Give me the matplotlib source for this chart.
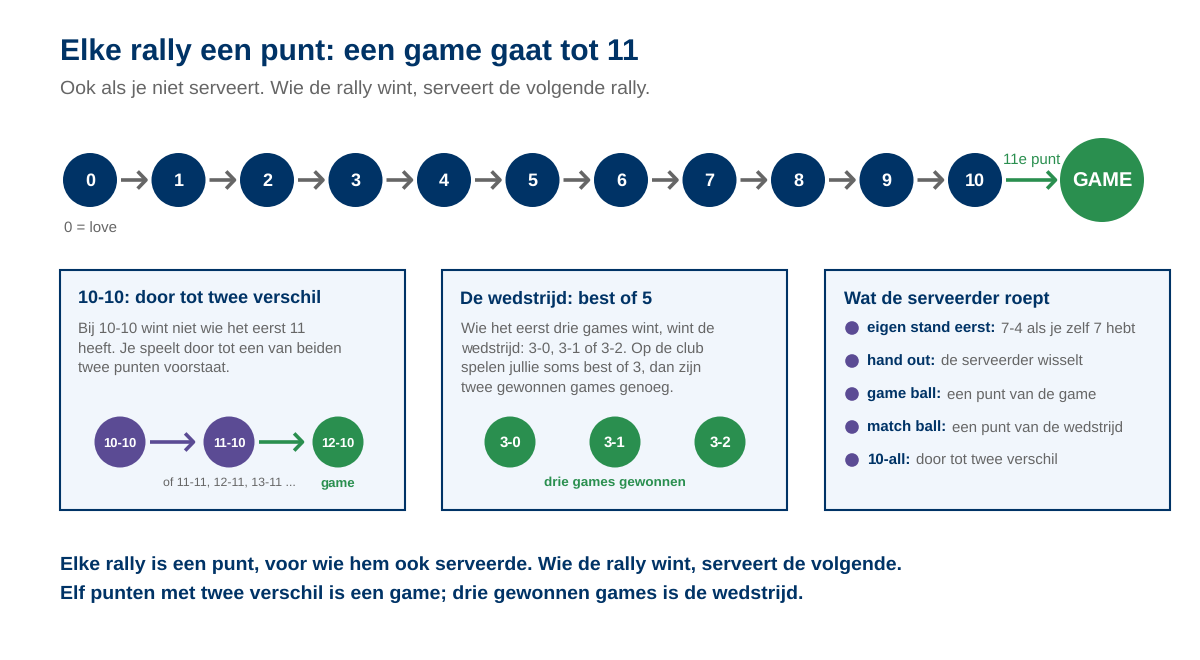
import matplotlib
matplotlib.use("Agg")
from matplotlib import pyplot as plt
from matplotlib.patches import Circle, Rectangle

NAVY = '#003366'
GREEN = '#2a8f4f'
PURPLE = '#5b4b94'
GRAY = '#666666'
PANEL = '#f1f6fc'

title = "Elke rally een punt: een game gaat tot 11"
subtitle = "Ook als je niet serveert. Wie de rally wint, serveert de volgende rally."
scores = ['0', '1', '2', '3', '4', '5', '6', '7', '8', '9', '10']
deuce_states = ['10-10', '11-10', '12-10']
game_results = ['3-0', '3-1', '3-2']
calls = ['eigen stand eerst:', 'hand out:', 'game ball:', 'match ball:', '10-all:']
call_texts = ['7-4 als je zelf 7 hebt', 'de serveerder wisselt', 'een punt van de game',
              'een punt van de wedstrijd', 'door tot twee verschil']
panel_heads = ['10-10: door tot twee verschil', 'De wedstrijd: best of 5', 'Wat de serveerder roept']
panel1_lines = ['Bij 10-10 wint niet wie het eerst 11', 'heeft. Je speelt door tot een van beiden',
                'twee punten voorstaat.']
panel2_lines = ['Wie het eerst drie games wint, wint de', 'wedstrijd: 3-0, 3-1 of 3-2. Op de club',
                'spelen jullie soms best of 3, dan zijn', 'twee gewonnen games genoeg.']
closing = ['Elke rally is een punt, voor wie hem ook serveerde. Wie de rally wint, serveert de volgende.',
           'Elf punten met twee verschil is een game; drie gewonnen games is de wedstrijd.']

plt.rcParams['font.family'] = ['Liberation Sans', 'DejaVu Sans']
plt.rcParams['text.hinting'] = 'no_hinting'
plt.rcParams['text.hinting_factor'] = 8

fig = plt.figure(figsize=(12, 6.6), dpi=100)
ax = fig.add_axes([0, 0, 1, 1])
ax.set_xlim(0, 1200)
ax.set_ylim(660, 0)
ax.axis('off')


def node(x, y, r, label, color, size):
    ax.add_patch(Circle((x, y), r, facecolor=color, edgecolor='none', zorder=3))
    ax.text(x, y + 0.48 * size, label, color='white', fontsize=size, fontweight='bold',
            ha='center', va='baseline', zorder=4)


def arrow(x0, x1, y, color, lw=2.6):
    ax.annotate('', xy=(x1, y), xytext=(x0, y),
                arrowprops=dict(arrowstyle='->,head_length=0.6,head_width=0.62', color=color,
                                lw=lw, shrinkA=0, shrinkB=0, capstyle='butt'))


def left_text(x, y, s, size, color, weight='normal'):
    return ax.text(x, y, s, fontsize=size, color=color, fontweight=weight, ha='left', va='baseline')


def mid_text(x, y, s, size, color, weight='normal'):
    return ax.text(x, y, s, fontsize=size, color=color, fontweight=weight, ha='center', va='baseline')


left_text(60, 61, title, 21.6, NAVY, 'bold')
left_text(60, 94, subtitle, 14, GRAY)

# score chain
chain_x = [90 + 88.5 * i for i in range(len(scores))]
for i, s in enumerate(scores):
    node(chain_x[i], 180, 27, s, NAVY, 13)
    if i < len(scores) - 1:
        arrow(chain_x[i] + 31, chain_x[i] + 58.5, 180, GRAY)
arrow(1006, 1058, 180, GREEN)
node(1102, 180, 42, 'GAME', GREEN, 14.5)
mid_text(1032, 163.5, '11e punt', 10.8, GREEN)
mid_text(90, 232.5, '0 = love', 10.8, GRAY)

# panels
panel_x = [60, 442, 825]
for px, head in zip(panel_x, panel_heads):
    ax.add_patch(Rectangle((px, 270), 345, 240, facecolor=PANEL, edgecolor=NAVY, lw=1.5))
    left_text(px + 18.5, 303, head, 13, NAVY, 'bold')

for i, line in enumerate(panel1_lines):
    left_text(78, 333 + i * 19.6, line, 10.8, GRAY)
for i, line in enumerate(panel2_lines):
    left_text(461, 333 + i * 19.6, line, 10.8, GRAY)

# deuce row
deuce_x = [120, 229, 338]
deuce_colors = [PURPLE, PURPLE, GREEN]
for x, s, c in zip(deuce_x, deuce_states, deuce_colors):
    node(x, 442, 25.5, s, c, 9.4)
arrow(150, 196, 442, PURPLE)
arrow(259, 305, 442, GREEN)
mid_text(229, 486, 'of 11-11, 12-11, 13-11 ...', 8.9, GRAY)
mid_text(338, 486, 'game', 9.5, GREEN, 'bold')

# games row
for x, s in zip([510, 615, 720], game_results):
    node(x, 442, 25.5, s, GREEN, 10.8)
mid_text(615, 486, 'drie games gewonnen', 9.7, GREEN, 'bold')

# serveerder list
renderer = fig.canvas.get_renderer()
inv = ax.transData.inverted()
for i, (b, t) in enumerate(zip(calls, call_texts)):
    y = 328 + i * 33
    ax.add_patch(Circle((852, y), 6.8, facecolor=PURPLE, edgecolor='none'))
    lab = left_text(867, y + 5, b, 10.8, NAVY, 'bold')
    right = inv.transform(lab.get_window_extent(renderer))[1][0]
    left_text(right + 5.5, y + 5, t, 10.8, GRAY)

for i, line in enumerate(closing):
    left_text(60, 569.5 + i * 29, line, 14, NAVY, 'bold')

fig.savefig('out.png', dpi=100, facecolor='white')
